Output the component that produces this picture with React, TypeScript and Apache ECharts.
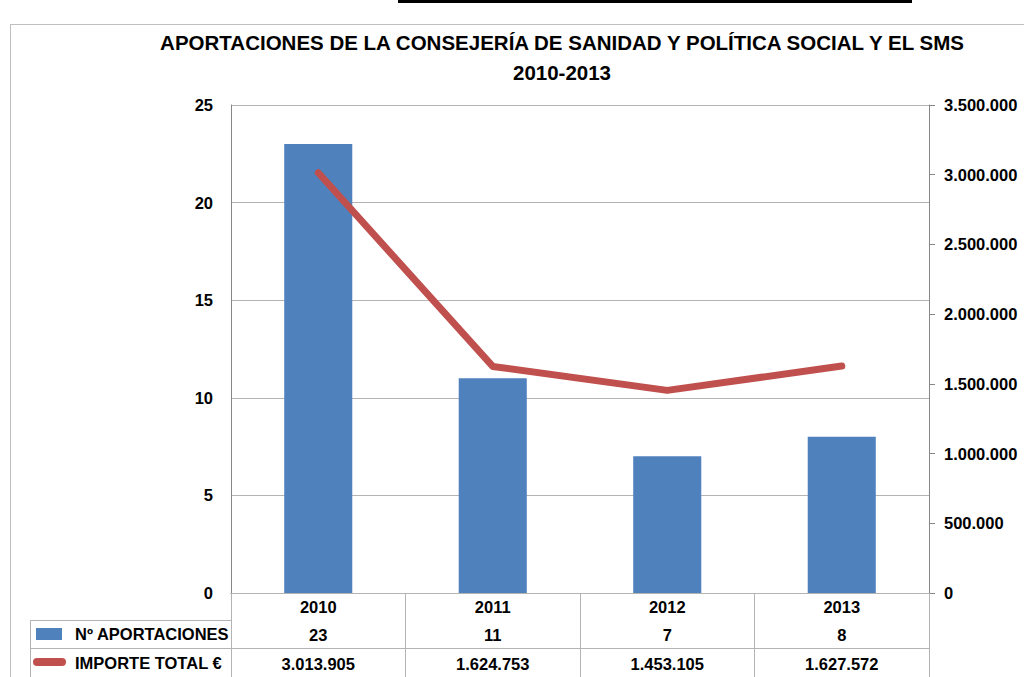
import React, { useEffect, useRef } from "react";
import * as echarts from "echarts";

const titleLines = [
  "APORTACIONES DE LA CONSEJERÍA DE SANIDAD Y POLÍTICA SOCIAL Y EL SMS",
  "2010-2013",
];
const years = ["2010", "2011", "2012", "2013"];
const seriesNames = ["Nº APORTACIONES", "IMPORTE TOTAL €"];
const aportaciones = [23, 11, 7, 8];
const importe = [3013905, 1624753, 1453105, 1627572];

const FONT = "'Liberation Sans Narrow', 'Arial Narrow', 'Liberation Sans', sans-serif";
const BLUE = "#4F81BD";
const RED = "#C0504D";
const GRID_GRAY = "#B3B3B3";
const AXIS_GRAY = "#868686";
const FS = 16.5;

const fmt = (n: number) =>
  String(Math.round(n)).replace(/\B(?=(\d{3})+(?!\d))/g, ".");

export default function App() {
  const ref = useRef<HTMLDivElement>(null);
  useEffect(() => {
    if (!ref.current) return;
    const chart = echarts.init(ref.current, undefined, { renderer: "svg" });
    const labelStyle = {
      color: "#000",
      fontWeight: "bold" as const,
      fontSize: FS,
      fontFamily: FONT,
    };
    chart.setOption({
      animation: false,
      backgroundColor: "#fff",
      title: {
        text: titleLines.join("\n"),
        left: 557,
        top: 22,
        textAlign: "center",
        textStyle: {
          color: "#000",
          fontWeight: "bold",
          fontSize: 20.5,
          lineHeight: 30,
          fontFamily: FONT,
        },
      },
      grid: { left: 231, right: 95, top: 105, bottom: 84, containLabel: false },
      xAxis: [
        {
          type: "category",
          data: years,
          position: "bottom",
          axisLine: { show: true, lineStyle: { color: AXIS_GRAY, width: 1 } },
          axisTick: {
            show: true,
            interval: 0,
            length: 84,
            lineStyle: { color: GRID_GRAY },
          },
          axisLabel: { ...labelStyle, margin: 5 },
        },
        {
          type: "category",
          data: years,
          position: "bottom",
          offset: 27,
          axisLine: { show: true, lineStyle: { color: GRID_GRAY } },
          axisTick: { show: false },
          axisLabel: {
            ...labelStyle,
            margin: 6,
            formatter: (_v: string, i: number) => String(aportaciones[i]),
          },
        },
        {
          type: "category",
          data: years,
          position: "bottom",
          offset: 55,
          axisLine: { show: true, lineStyle: { color: GRID_GRAY } },
          axisTick: { show: false },
          axisLabel: {
            ...labelStyle,
            margin: 7,
            formatter: (_v: string, i: number) => fmt(importe[i]),
          },
        },
      ],
      yAxis: [
        {
          type: "value",
          min: 0,
          max: 25,
          interval: 5,
          position: "left",
          axisLine: { show: true, lineStyle: { color: AXIS_GRAY } },
          axisTick: { show: false },
          splitLine: { show: true, lineStyle: { color: GRID_GRAY } },
          axisLabel: { ...labelStyle, margin: 18 },
        },
        {
          type: "value",
          min: 0,
          max: 3500000,
          interval: 500000,
          position: "right",
          axisLine: { show: true, lineStyle: { color: AXIS_GRAY } },
          axisTick: { show: true, length: 6, lineStyle: { color: AXIS_GRAY } },
          splitLine: { show: false },
          axisLabel: { ...labelStyle, margin: 15, formatter: (v: number) => fmt(v) },
        },
      ],
      series: [
        {
          name: seriesNames[0],
          type: "bar",
          xAxisIndex: 0,
          yAxisIndex: 0,
          data: aportaciones,
          barWidth: "39%",
          itemStyle: { color: BLUE },
        },
        {
          name: seriesNames[1],
          type: "line",
          xAxisIndex: 0,
          yAxisIndex: 1,
          data: importe,
          showSymbol: false,
          symbol: "none",
          lineStyle: { color: RED, width: 7, cap: "round", join: "round" },
          itemStyle: { color: RED },
        },
      ],
      graphic: [
        { type: "rect", shape: { x: 398, y: 0, width: 514, height: 3 }, style: { fill: "#000" } },
        { type: "line", shape: { x1: 10.5, y1: 24, x2: 10.5, y2: 677 }, style: { stroke: "#BFBFBF", lineWidth: 1 } },
        { type: "line", shape: { x1: 10, y1: 24.5, x2: 1024, y2: 24.5 }, style: { stroke: "#BFBFBF", lineWidth: 1 } },
        { type: "line", shape: { x1: 30, y1: 620.5, x2: 231, y2: 620.5 }, style: { stroke: GRID_GRAY, lineWidth: 1 } },
        { type: "line", shape: { x1: 30, y1: 648.5, x2: 231, y2: 648.5 }, style: { stroke: GRID_GRAY, lineWidth: 1 } },
        { type: "line", shape: { x1: 30.5, y1: 620, x2: 30.5, y2: 677 }, style: { stroke: GRID_GRAY, lineWidth: 1 } },
        { type: "rect", shape: { x: 36, y: 628, width: 26, height: 12 }, style: { fill: BLUE } },
        {
          type: "text",
          x: 75,
          y: 634,
          style: { text: seriesNames[0], fill: "#000", font: `bold ${FS}px ${FONT}`, verticalAlign: "middle", align: "left" },
        },
        { type: "line", shape: { x1: 37, y1: 662, x2: 62, y2: 662 }, style: { stroke: RED, lineWidth: 8, lineCap: "round" } },
        {
          type: "text",
          x: 75,
          y: 663,
          style: { text: seriesNames[1], fill: "#000", font: `bold ${FS}px ${FONT}`, verticalAlign: "middle", align: "left" },
        },
      ],
    });
    return () => chart.dispose();
  }, []);
  return (
    <div
      ref={ref}
      style={{ position: "absolute", left: 0, top: 0, width: 1024, height: 677 }}
    />
  );
}
